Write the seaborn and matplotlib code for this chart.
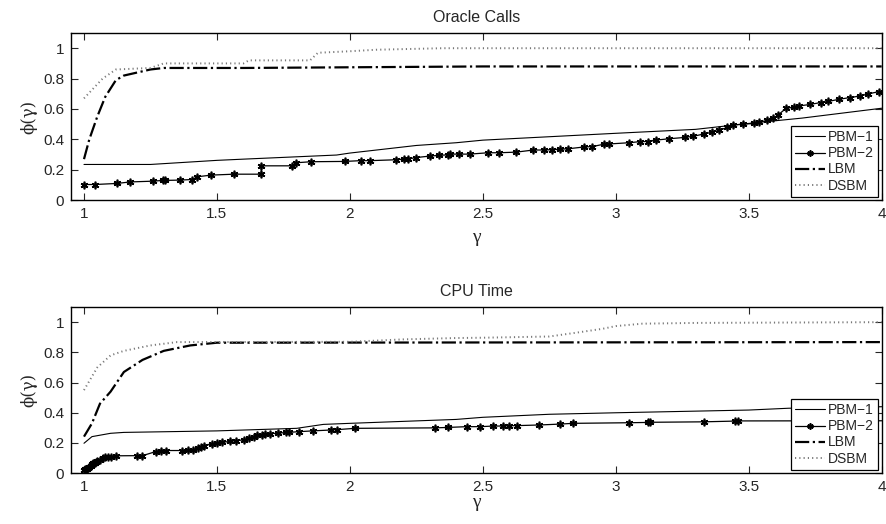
import numpy as np
import pandas as pd
import seaborn as sns
import matplotlib.pyplot as plt

# ---- Oracle Calls (top) ----
oc_pbm1_x = [1.0, 1.25, 1.5, 1.6, 1.95, 2.0, 2.25, 2.4, 2.5, 3.0, 3.3, 3.5, 3.7, 4.0]
oc_pbm1_y = [0.235, 0.235, 0.262, 0.27, 0.297, 0.31, 0.36, 0.378, 0.395, 0.44, 0.466, 0.505, 0.54, 0.605]

oc_pbm2_x = [1.0, 1.04, 1.124, 1.174, 1.259, 1.297, 1.303, 1.36, 1.407, 1.426, 1.479, 1.564, 1.667,
             1.667, 1.783, 1.796, 1.855, 1.982, 2.04, 2.076, 2.174, 2.205, 2.218, 2.247, 2.3, 2.337,
             2.368, 2.375, 2.412, 2.45, 2.52, 2.56, 2.625, 2.69, 2.73, 2.76, 2.79, 2.82, 2.88, 2.91,
             2.957, 2.976, 3.05, 3.09, 3.12, 3.15, 3.2, 3.26, 3.29, 3.33, 3.36, 3.39, 3.42, 3.44,
             3.48, 3.52, 3.54, 3.57, 3.59, 3.61, 3.64, 3.67, 3.69, 3.73, 3.77, 3.8, 3.84, 3.88,
             3.92, 3.95, 3.99]
oc_pbm2_y = [0.103, 0.103, 0.11, 0.12, 0.125, 0.13, 0.13, 0.132, 0.136, 0.154, 0.165, 0.171, 0.171,
             0.226, 0.226, 0.246, 0.253, 0.255, 0.26, 0.26, 0.266, 0.27, 0.27, 0.28, 0.29, 0.295,
             0.298, 0.303, 0.303, 0.303, 0.312, 0.312, 0.316, 0.33, 0.33, 0.332, 0.335, 0.338, 0.35, 0.352,
             0.369, 0.37, 0.378, 0.385, 0.386, 0.395, 0.404, 0.413, 0.42, 0.435, 0.447, 0.46, 0.48, 0.495,
             0.5, 0.505, 0.514, 0.525, 0.538, 0.56, 0.604, 0.612, 0.62, 0.63, 0.642, 0.65, 0.664, 0.675,
             0.686, 0.7, 0.714]

oc_lbm_x = [1.0, 1.02, 1.05, 1.08, 1.12, 1.15, 1.2, 1.25, 1.3, 1.6, 2.5, 4.0]
oc_lbm_y = [0.27, 0.4, 0.55, 0.68, 0.79, 0.82, 0.84, 0.86, 0.87, 0.87, 0.88, 0.88]

oc_dsbm_x = [1.0, 1.07, 1.12, 1.25, 1.3, 1.6, 1.62, 1.85, 1.88, 2.0, 2.1, 2.35, 4.0]
oc_dsbm_y = [0.67, 0.8, 0.86, 0.87, 0.9, 0.9, 0.92, 0.92, 0.97, 0.98, 0.99, 1.0, 1.0]

# ---- CPU Time (bottom) ----
cpu_pbm1_x = [1.0, 1.03, 1.1, 1.15, 1.5, 1.8, 1.9, 2.0, 2.4, 2.5, 2.75, 3.0, 3.5, 3.65, 4.0]
cpu_pbm1_y = [0.198, 0.242, 0.264, 0.27, 0.28, 0.297, 0.323, 0.33, 0.356, 0.37, 0.39, 0.4, 0.418, 0.43, 0.44]

cpu_pbm2_x = [1.0, 1.005, 1.01, 1.015, 1.02, 1.025, 1.03, 1.035, 1.04, 1.045, 1.05, 1.06, 1.07, 1.08,
              1.09, 1.1, 1.12, 1.2, 1.22, 1.27, 1.29, 1.31, 1.37, 1.39, 1.41, 1.43, 1.44, 1.45, 1.48,
              1.5, 1.52, 1.55, 1.57, 1.6, 1.62, 1.64, 1.65, 1.67, 1.68, 1.7, 1.73, 1.76, 1.77, 1.81,
              1.86, 1.93, 1.95, 2.02, 2.32, 2.37, 2.44, 2.49, 2.54, 2.575, 2.6, 2.63, 2.71, 2.79,
              2.84, 3.05, 3.12, 3.13, 3.33, 3.45, 3.46, 4.0]
cpu_pbm2_y = [0.02, 0.025, 0.03, 0.035, 0.04, 0.05, 0.06, 0.065, 0.07, 0.075, 0.08, 0.09, 0.1, 0.105,
              0.108, 0.11, 0.115, 0.116, 0.116, 0.143, 0.15, 0.15, 0.15, 0.152, 0.155, 0.17, 0.176,
              0.18, 0.195, 0.2, 0.205, 0.21, 0.215, 0.22, 0.23, 0.24, 0.25, 0.255, 0.26, 0.262, 0.264,
              0.27, 0.27, 0.275, 0.28, 0.286, 0.288, 0.297, 0.3, 0.303, 0.308, 0.308, 0.312, 0.312,
              0.314, 0.315, 0.319, 0.325, 0.33, 0.334, 0.336, 0.337, 0.34, 0.345, 0.346, 0.347]

cpu_lbm_x = [1.0, 1.03, 1.06, 1.1, 1.15, 1.22, 1.3, 1.4, 1.5, 4.0]
cpu_lbm_y = [0.242, 0.33, 0.46, 0.54, 0.67, 0.75, 0.81, 0.846, 0.864, 0.868]

cpu_dsbm_x = [1.0, 1.05, 1.1, 1.15, 1.25, 1.35, 2.0, 2.2, 2.4, 2.5, 2.75, 2.85, 2.95, 3.0, 3.1, 3.3, 4.0]
cpu_dsbm_y = [0.55, 0.7, 0.78, 0.81, 0.846, 0.868, 0.87, 0.886, 0.895, 0.897, 0.905, 0.93, 0.956,
              0.974, 0.99, 0.995, 1.0]

labels = ['PBM\u22121', 'PBM\u22122', 'LBM', 'DSBM']

sns.set_style("ticks")
plt.rcParams['font.family'] = ['Liberation Sans', 'DejaVu Sans']

fig = plt.figure(figsize=(8.87, 5.24), dpi=100)
ax1 = fig.add_axes([0.080, 0.618, 0.914, 0.319])
ax2 = fig.add_axes([0.080, 0.097, 0.914, 0.317])

# matlab style asterisk
star = (6, 2, 0)


def style_star(ln, size):
    ln.set_marker(star)
    ln.set_markersize(size)
    ln.set_markeredgewidth(1.2)
    ln.set_markeredgecolor('black')
    ln.set_linestyle('-')


def draw(ax, series, title):
    (p1x, p1y), (p2x, p2y), (lx, ly), (dx, dy) = series
    sns.lineplot(x=p1x, y=p1y, ax=ax, sort=False, estimator=None, color='black',
                 linewidth=0.8, label=labels[0])
    sns.lineplot(x=p2x, y=p2y, ax=ax, sort=False, estimator=None, color='black',
                 linewidth=0.9, marker='*', label=labels[1])
    ln = ax.lines[-1]
    style_star(ln, 5.5)
    if p2x[-1] == 4.0:
        ln.set_markevery(list(range(len(p2x) - 1)))
    sns.lineplot(x=lx, y=ly, ax=ax, sort=False, estimator=None, color='black',
                 linewidth=1.6, linestyle='-.', label=labels[2])
    sns.lineplot(x=dx, y=dy, ax=ax, sort=False, estimator=None, color='#777777',
                 linewidth=1.4, linestyle=(0, (0.6, 1.6)), label=labels[3])
    ax.set_xlim(0.951, 4)
    ax.set_ylim(0, 1.1)
    ax.set_xticks([1, 1.5, 2, 2.5, 3, 3.5, 4])
    ax.set_xticklabels(['1', '1.5', '2', '2.5', '3', '3.5', '4'])
    ax.set_yticks([0, 0.2, 0.4, 0.6, 0.8, 1])
    ax.set_yticklabels(['0', '0.2', '0.4', '0.6', '0.8', '1'])
    ax.tick_params(direction='in', top=True, right=True, length=5, width=0.8,
                   labelsize=11, pad=5)
    for s in ax.spines.values():
        s.set_linewidth(1.0)
        s.set_color('black')
    ax.set_title(title, fontsize=11.5, pad=8)
    ax.set_ylabel('\u03d5(\u03b3)', fontsize=12, family=['DejaVu Serif'])
    leg = ax.legend(loc='lower right', fontsize=10, handlelength=2.2, handletextpad=0.2,
                    borderpad=0.3, labelspacing=0.15, borderaxespad=0.25, fancybox=False,
                    framealpha=1)
    leg.get_frame().set_edgecolor('black')
    leg.get_frame().set_linewidth(0.9)
    style_star(leg.legend_handles[1], 4.5)


draw(ax1, [(oc_pbm1_x, oc_pbm1_y), (oc_pbm2_x, oc_pbm2_y), (oc_lbm_x, oc_lbm_y),
           (oc_dsbm_x, oc_dsbm_y)], 'Oracle Calls')
ax1.set_xlabel('\u03b3', fontsize=14, family=['Liberation Serif'], labelpad=6)
draw(ax2, [(cpu_pbm1_x, cpu_pbm1_y), (cpu_pbm2_x, cpu_pbm2_y), (cpu_lbm_x, cpu_lbm_y),
           (cpu_dsbm_x, cpu_dsbm_y)], 'CPU Time')
ax2.set_xlabel('\u03b3', fontsize=14, family=['Liberation Serif'], labelpad=0)

fig.savefig('out.png', dpi=100)
